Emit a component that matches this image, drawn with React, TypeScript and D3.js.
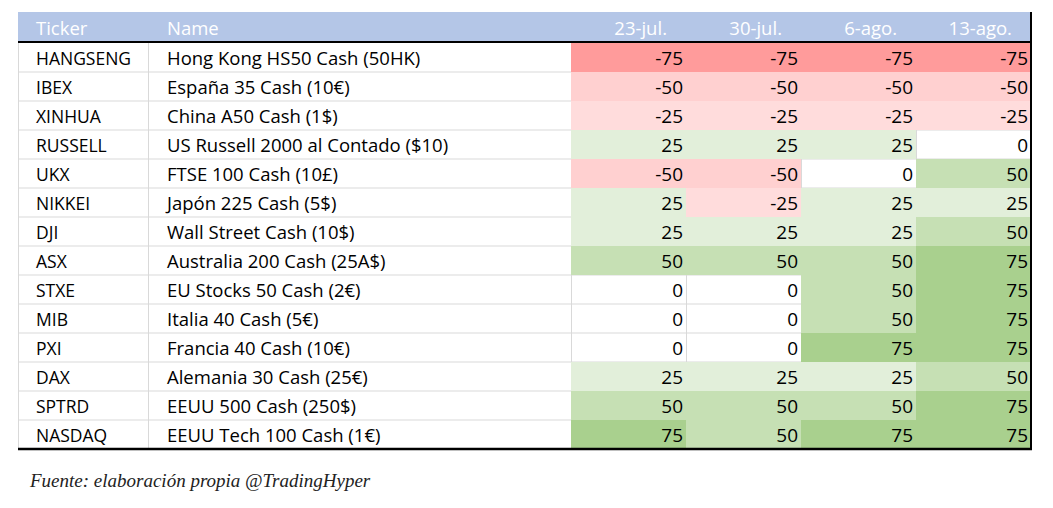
import React from 'react';
import * as d3 from 'd3';

const W = 1053;
const H = 508;

const tickers = ['HANGSENG', 'IBEX', 'XINHUA', 'RUSSELL', 'UKX', 'NIKKEI', 'DJI', 'ASX', 'STXE', 'MIB', 'PXI', 'DAX', 'SPTRD', 'NASDAQ'];
const names = [
  'Hong Kong HS50 Cash (50HK)',
  'España 35 Cash (10€)',
  'China A50 Cash (1$)',
  'US Russell 2000 al Contado ($10)',
  'FTSE 100 Cash (10£)',
  'Japón 225 Cash (5$)',
  'Wall Street Cash (10$)',
  'Australia 200 Cash (25A$)',
  'EU Stocks 50 Cash (2€)',
  'Italia 40 Cash (5€)',
  'Francia 40 Cash (10€)',
  'Alemania 30 Cash (25€)',
  'EEUU 500 Cash (250$)',
  'EEUU Tech 100 Cash (1€)',
];
const dates = ['23-jul.', '30-jul.', '6-ago.', '13-ago.'];
const scores = [
  [-75, -75, -75, -75],
  [-50, -50, -50, -50],
  [-25, -25, -25, -25],
  [25, 25, 25, 0],
  [-50, -50, 0, 50],
  [25, -25, 25, 25],
  [25, 25, 25, 50],
  [50, 50, 50, 75],
  [0, 0, 50, 75],
  [0, 0, 50, 75],
  [0, 0, 75, 75],
  [25, 25, 25, 50],
  [50, 50, 50, 75],
  [75, 50, 75, 75],
];

const LEFT = 18;
const RIGHT = 1031;
const TOP = 12;
const HEAD_H = 30;
const TICKER_X = 148;
const NAME_X = 571;
const BOTTOM = 449;

const FONT = '"Open Sans", sans-serif';

const fillColor = d3
  .scaleOrdinal<number, string>()
  .domain([-75, -50, -25, 0, 25, 50, 75])
  .range(['#ff9b9b', '#ffd0d0', '#ffdcdc', '#ffffff', '#e2efda', '#c6e0b4', '#a9d08e']);

export default function App() {
  const y = d3.scaleBand<number>().domain(d3.range(tickers.length)).range([TOP + HEAD_H + 1, BOTTOM]);
  const x = d3.scaleBand<number>().domain(d3.range(dates.length)).range([NAME_X, RIGHT]);
  const rh = y.bandwidth();
  const cw = x.bandwidth();

  return (
    <svg
      width={W}
      height={H}
      style={{ position: 'absolute', left: 0, top: 0, background: '#fff', display: 'block' }}
      fontFamily={FONT}
    >
      {/* header */}
      <rect x={LEFT} y={TOP} width={RIGHT - LEFT} height={HEAD_H} fill="#b4c6e7" />
      <g fill="#fff" fontSize={18.5}>
        <text x={36} y={TOP + 23}>Ticker</text>
        <text x={167} y={TOP + 23}>Name</text>
        {dates.map((d, j) => (
          <text key={d} x={(x(j) ?? 0) + cw - 19} y={TOP + 23} textAnchor="end">
            {d}
          </text>
        ))}
      </g>

      {/* gridlines */}
      {tickers.map((_, i) => (
        <line key={'h' + i} x1={LEFT} x2={RIGHT} y1={(y(i) ?? 0) + rh} y2={(y(i) ?? 0) + rh} stroke="#d9d9d9" />
      ))}
      {[LEFT, TICKER_X, ...d3.range(dates.length).map((j) => x(j) ?? 0)].map((gx, k) => (
        <line key={'v' + k} x1={gx + 0.5} x2={gx + 0.5} y1={TOP + HEAD_H} y2={BOTTOM} stroke="#d9d9d9" />
      ))}

      {/* cells */}
      {scores.map((row, i) =>
        row.map((v, j) =>
          v !== 0 ? (
            <rect key={`c${i}-${j}`} x={x(j)} y={y(i)} width={cw} height={rh} fill={fillColor(v)} />
          ) : null
        )
      )}

      {tickers.map((t, i) => {
        const cy = (y(i) ?? 0) + rh / 2 + 7.5;
        return (
          <g key={t} fill="#000">
            <text x={36} y={cy} fontSize={17.5}>{t}</text>
            <text x={167} y={cy} fontSize={18.5}>{names[i]}</text>
            {scores[i].map((v, j) => (
              <text key={j} x={(x(j) ?? 0) + cw - 3} y={cy} textAnchor="end" fontSize={19}>
                {v}
              </text>
            ))}
          </g>
        );
      })}

      {/* borders */}
      <line x1={LEFT} x2={RIGHT + 1} y1={TOP + HEAD_H} y2={TOP + HEAD_H} stroke="#000" strokeWidth={2} />
      <line x1={LEFT} x2={RIGHT + 1} y1={BOTTOM} y2={BOTTOM} stroke="#000" strokeWidth={2.5} />
      <line x1={RIGHT} x2={RIGHT} y1={TOP} y2={BOTTOM + 1} stroke="#000" strokeWidth={2} />

      <text x={30} y={487} fontFamily='"Liberation Serif", serif' fontStyle="italic" fontSize={19} fill="#222">
        Fuente: elaboración propia @TradingHyper
      </text>
    </svg>
  );
}
